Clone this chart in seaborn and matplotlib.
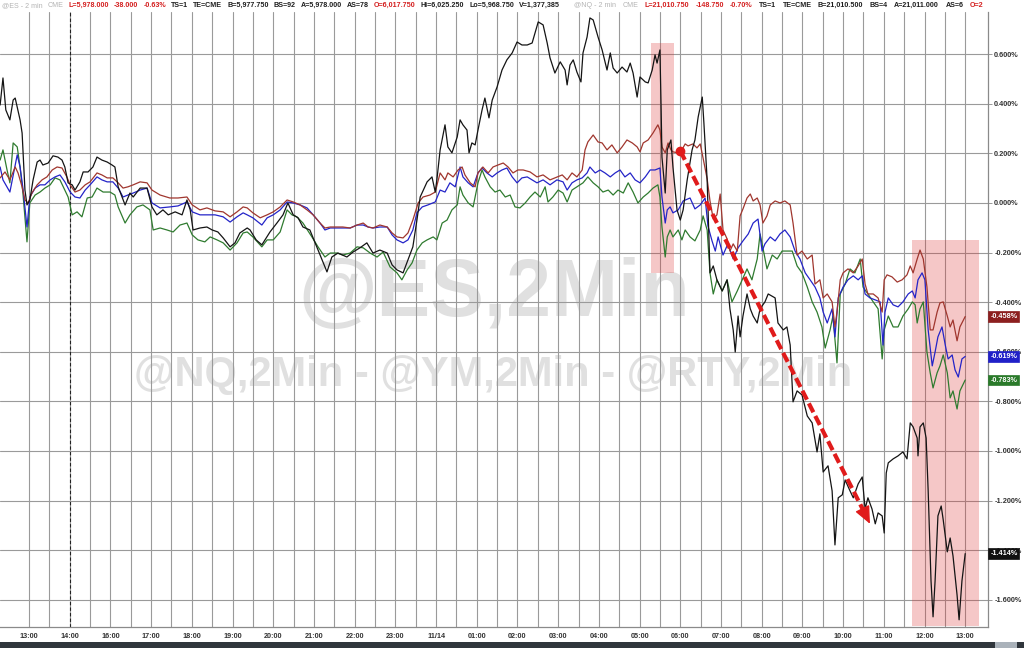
import numpy as np
import pandas as pd
import matplotlib
matplotlib.use("Agg")
import matplotlib.pyplot as plt
import seaborn as sns
from matplotlib.patches import Rectangle

# ---------------- data (x = hour slot, 0 = first "13:00" label; y = % change) -------------
time_labels = ["13:00", "14:00", "16:00", "17:00", "18:00", "19:00", "20:00", "21:00",
               "22:00", "23:00", "11/14", "01:00", "02:00", "03:00", "04:00", "05:00",
               "06:00", "07:00", "08:00", "09:00", "10:00", "11:00", "12:00", "13:00"]

nq = [(-0.71,0.395),(-0.64,0.504),(-0.57,0.375),(-0.47,0.335),(-0.39,0.415),(-0.34,0.423),(-0.29,0.387),(-0.22,0.335),(-0.17,0.282),(-0.10,0.052),(-0.05,-0.008),(0.02,0.012),(0.10,0.093),(0.20,0.165),(0.27,0.173),(0.34,0.153),(0.47,0.161),(0.59,0.190),(0.71,0.185),(0.81,0.173),(0.88,0.145),(0.96,0.081),(1.06,0.073),(1.13,0.052),(1.25,0.085),(1.33,0.125),(1.45,0.125),(1.57,0.145),(1.67,0.185),(1.79,0.173),(1.92,0.165),(2.04,0.153),(2.11,0.145),(2.19,0.065),(2.36,-0.008),(2.48,0.040),(2.56,0.024),(2.73,0.060),(2.90,0.060),(3.02,-0.016),(3.14,-0.048),(3.29,-0.028),(3.42,-0.048),(3.59,-0.036),(3.76,-0.048),(3.88,0.012),(3.96,-0.028),(4.03,-0.109),(4.20,-0.101),(4.37,-0.097),(4.50,-0.109),(4.64,-0.117),(4.77,-0.141),(4.94,-0.177),(5.06,-0.161),(5.18,-0.121),(5.36,-0.101),(5.43,-0.109),(5.58,-0.149),(5.72,-0.169),(5.92,-0.117),(6.09,-0.081),(6.24,-0.048),(6.36,0.000),(6.49,-0.048),(6.61,-0.060),(6.73,-0.097),(6.90,-0.109),(7.03,-0.161),(7.20,-0.230),(7.32,-0.278),(7.44,-0.218),(7.59,-0.202),(7.81,-0.218),(7.96,-0.198),(8.13,-0.181),(8.30,-0.161),(8.45,-0.202),(8.62,-0.190),(8.80,-0.202),(8.92,-0.250),(9.04,-0.270),(9.19,-0.282),(9.31,-0.230),(9.43,-0.177),(9.53,-0.069),(9.61,0.024),(9.78,0.085),(9.90,0.105),(9.98,0.044),(10.02,0.093),(10.10,0.214),(10.22,0.315),(10.29,0.226),(10.39,0.202),(10.52,0.266),(10.59,0.335),(10.66,0.315),(10.76,0.294),(10.81,0.202),(10.88,0.242),(10.96,0.234),(11.03,0.294),(11.13,0.375),(11.20,0.423),(11.30,0.343),(11.38,0.415),(11.50,0.468),(11.62,0.536),(11.74,0.577),(11.87,0.605),(11.99,0.649),(12.11,0.637),(12.24,0.637),(12.36,0.645),(12.43,0.685),(12.51,0.730),(12.63,0.718),(12.73,0.645),(12.80,0.585),(12.92,0.524),(13.05,0.569),(13.17,0.536),(13.22,0.476),(13.29,0.556),(13.37,0.577),(13.46,0.528),(13.56,0.488),(13.61,0.605),(13.71,0.669),(13.78,0.746),(13.86,0.738),(13.98,0.669),(14.08,0.617),(14.20,0.536),(14.28,0.605),(14.35,0.544),(14.45,0.524),(14.57,0.548),(14.69,0.528),(14.77,0.564),(14.84,0.524),(14.94,0.427),(15.01,0.508),(15.14,0.488),(15.21,0.484),(15.31,0.536),(15.38,0.597),(15.43,0.564),(15.50,0.617),(15.53,0.375),(15.55,0.185),(15.63,0.040),(15.68,0.214),(15.77,0.254),(15.82,0.145),(15.92,-0.028),(16.00,-0.069),(16.07,-0.028),(16.17,0.093),(16.29,0.214),(16.36,0.254),(16.44,0.347),(16.54,0.427),(16.58,0.323),(16.66,0.093),(16.73,-0.282),(16.81,-0.254),(16.90,-0.310),(17.03,-0.355),(17.15,-0.310),(17.22,-0.427),(17.30,-0.512),(17.35,-0.601),(17.42,-0.456),(17.47,-0.540),(17.54,-0.456),(17.64,-0.367),(17.72,-0.427),(17.79,-0.456),(17.89,-0.484),(17.96,-0.427),(18.08,-0.399),(18.16,-0.367),(18.33,-0.383),(18.40,-0.484),(18.53,-0.512),(18.62,-0.500),(18.70,-0.573),(18.77,-0.802),(18.87,-0.758),(18.99,-0.774),(19.12,-0.859),(19.24,-0.887),(19.36,-1.004),(19.43,-0.931),(19.51,-1.085),(19.63,-1.060),(19.73,-1.161),(19.80,-1.379),(19.88,-1.189),(19.98,-1.177),(20.05,-1.117),(20.17,-1.161),(20.25,-1.189),(20.37,-1.133),(20.47,-1.105),(20.54,-1.234),(20.61,-1.189),(20.71,-1.234),(20.79,-1.294),(20.86,-1.250),(20.96,-1.262),(21.01,-1.331),(21.06,-1.089),(21.11,-1.048),(21.23,-1.032),(21.35,-1.020),(21.47,-1.004),(21.57,-1.032),(21.65,-0.887),(21.72,-0.903),(21.82,-0.948),(21.84,-1.020),(21.89,-0.903),(21.97,-0.887),(22.04,-0.948),(22.09,-1.161),(22.16,-1.524),(22.21,-1.669),(22.26,-1.524),(22.33,-1.262),(22.41,-1.222),(22.46,-1.278),(22.56,-1.407),(22.63,-1.351),(22.70,-1.423),(22.80,-1.581),(22.85,-1.681),(22.92,-1.524),(23.00,-1.414)]

ym = [(-0.71,0.101),(-0.59,0.125),(-0.47,0.093),(-0.34,0.145),(-0.27,0.121),(-0.17,0.065),(-0.10,0.012),(-0.02,0.000),(0.07,0.040),(0.20,0.073),(0.32,0.093),(0.44,0.105),(0.57,0.133),(0.69,0.145),(0.81,0.141),(0.93,0.105),(1.01,0.073),(1.13,0.044),(1.25,0.052),(1.38,0.073),(1.50,0.085),(1.67,0.121),(1.79,0.113),(1.92,0.101),(2.06,0.101),(2.19,0.081),(2.31,0.060),(2.43,0.065),(2.56,0.073),(2.73,0.085),(2.90,0.081),(3.02,0.052),(3.22,0.032),(3.46,0.020),(3.66,0.020),(3.88,0.024),(4.01,-0.008),(4.20,-0.028),(4.37,-0.020),(4.57,-0.032),(4.77,-0.036),(4.94,-0.056),(5.11,-0.036),(5.26,-0.016),(5.36,-0.020),(5.50,-0.040),(5.68,-0.060),(5.85,-0.048),(6.00,-0.036),(6.17,-0.016),(6.34,0.012),(6.49,0.004),(6.66,-0.008),(6.83,-0.028),(6.98,-0.048),(7.15,-0.081),(7.27,-0.101),(7.40,-0.097),(7.57,-0.097),(7.71,-0.097),(7.89,-0.101),(8.06,-0.089),(8.21,-0.081),(8.33,-0.097),(8.45,-0.101),(8.62,-0.089),(8.80,-0.097),(8.92,-0.121),(9.04,-0.137),(9.19,-0.141),(9.31,-0.121),(9.43,-0.069),(9.56,0.000),(9.68,0.024),(9.85,0.032),(9.98,0.044),(10.10,0.121),(10.22,0.093),(10.29,0.121),(10.42,0.105),(10.54,0.133),(10.64,0.145),(10.71,0.113),(10.84,0.081),(10.96,0.065),(11.03,0.121),(11.15,0.145),(11.28,0.121),(11.40,0.145),(11.52,0.153),(11.65,0.161),(11.77,0.145),(11.89,0.121),(12.01,0.133),(12.14,0.133),(12.31,0.125),(12.48,0.105),(12.63,0.113),(12.80,0.093),(12.92,0.101),(13.10,0.113),(13.22,0.093),(13.34,0.121),(13.46,0.105),(13.59,0.133),(13.66,0.214),(13.73,0.246),(13.86,0.274),(13.98,0.246),(14.08,0.242),(14.20,0.214),(14.32,0.234),(14.45,0.202),(14.57,0.226),(14.69,0.254),(14.82,0.242),(14.94,0.226),(15.01,0.206),(15.09,0.242),(15.21,0.254),(15.33,0.282),(15.45,0.315),(15.50,0.294),(15.55,0.226),(15.63,0.202),(15.70,0.242),(15.77,0.214),(15.82,0.206),(15.95,0.202),(16.04,0.214),(16.12,0.238),(16.19,0.230),(16.31,0.238),(16.41,0.222),(16.49,0.238),(16.56,0.181),(16.66,0.097),(16.73,0.008),(16.81,-0.065),(16.90,-0.048),(16.98,0.036),(17.05,-0.109),(17.15,-0.145),(17.22,-0.194),(17.30,-0.165),(17.40,-0.194),(17.47,-0.052),(17.54,-0.024),(17.64,0.020),(17.72,0.036),(17.79,0.008),(17.89,0.020),(17.96,-0.008),(18.03,-0.081),(18.13,-0.052),(18.21,-0.008),(18.33,0.008),(18.45,0.000),(18.57,0.008),(18.70,-0.008),(18.77,-0.081),(18.87,-0.210),(18.99,-0.194),(19.12,-0.226),(19.24,-0.210),(19.31,-0.327),(19.43,-0.310),(19.51,-0.383),(19.61,-0.367),(19.73,-0.399),(19.80,-0.500),(19.85,-0.440),(19.93,-0.310),(20.00,-0.282),(20.12,-0.266),(20.25,-0.282),(20.37,-0.254),(20.47,-0.226),(20.54,-0.327),(20.61,-0.367),(20.74,-0.367),(20.86,-0.383),(20.96,-0.440),(21.01,-0.310),(21.08,-0.290),(21.20,-0.298),(21.33,-0.319),(21.45,-0.310),(21.57,-0.290),(21.65,-0.254),(21.72,-0.282),(21.82,-0.226),(21.89,-0.190),(21.97,-0.226),(22.06,-0.339),(22.14,-0.512),(22.21,-0.512),(22.31,-0.440),(22.38,-0.403),(22.46,-0.399),(22.56,-0.456),(22.63,-0.500),(22.70,-0.472),(22.80,-0.556),(22.87,-0.500),(23.00,-0.458)]

es = [(-0.71,0.145),(-0.64,0.093),(-0.47,0.044),(-0.29,0.194),(-0.22,0.145),(-0.15,0.060),(-0.05,-0.097),(0.02,0.024),(0.15,0.060),(0.27,0.073),(0.39,0.073),(0.52,0.093),(0.64,0.105),(0.76,0.113),(0.88,0.085),(1.01,0.044),(1.13,0.024),(1.25,0.020),(1.38,0.052),(1.50,0.073),(1.67,0.105),(1.79,0.093),(1.92,0.085),(2.06,0.085),(2.19,0.060),(2.31,0.024),(2.43,0.032),(2.56,0.040),(2.73,0.052),(2.90,0.060),(3.02,0.000),(3.22,-0.020),(3.46,-0.016),(3.66,-0.012),(3.88,0.004),(4.01,-0.036),(4.20,-0.048),(4.37,-0.048),(4.57,-0.048),(4.77,-0.056),(4.94,-0.077),(5.11,-0.056),(5.26,-0.040),(5.36,-0.048),(5.50,-0.060),(5.72,-0.089),(5.85,-0.060),(6.00,-0.048),(6.17,-0.028),(6.34,0.004),(6.49,0.000),(6.66,-0.008),(6.83,-0.020),(6.98,-0.048),(7.15,-0.081),(7.27,-0.109),(7.40,-0.101),(7.57,-0.101),(7.71,-0.101),(7.89,-0.101),(8.06,-0.089),(8.21,-0.089),(8.33,-0.097),(8.45,-0.101),(8.62,-0.097),(8.80,-0.097),(8.92,-0.129),(9.04,-0.149),(9.19,-0.161),(9.31,-0.149),(9.43,-0.109),(9.53,-0.040),(9.66,-0.016),(9.80,-0.008),(9.98,0.004),(10.10,0.052),(10.22,0.044),(10.34,0.081),(10.47,0.065),(10.59,0.145),(10.66,0.105),(10.79,0.081),(10.91,0.065),(11.03,0.121),(11.13,0.141),(11.25,0.121),(11.38,0.105),(11.50,0.121),(11.62,0.133),(11.74,0.141),(11.87,0.105),(11.99,0.081),(12.11,0.101),(12.24,0.105),(12.36,0.093),(12.48,0.081),(12.63,0.093),(12.80,0.073),(12.97,0.093),(13.12,0.085),(13.22,0.052),(13.34,0.081),(13.46,0.093),(13.59,0.101),(13.71,0.121),(13.78,0.145),(13.91,0.121),(14.03,0.133),(14.15,0.121),(14.28,0.105),(14.40,0.121),(14.52,0.133),(14.64,0.105),(14.77,0.121),(14.89,0.093),(15.01,0.081),(15.14,0.105),(15.26,0.133),(15.38,0.133),(15.50,0.141),(15.55,0.024),(15.63,-0.081),(15.68,-0.028),(15.75,-0.016),(15.82,-0.040),(15.95,-0.028),(16.07,0.008),(16.24,0.020),(16.36,-0.024),(16.49,-0.008),(16.61,0.020),(16.68,-0.093),(16.78,-0.153),(16.86,-0.194),(16.93,-0.137),(17.05,-0.210),(17.17,-0.165),(17.30,-0.226),(17.42,-0.181),(17.54,-0.153),(17.67,-0.125),(17.79,-0.081),(17.91,-0.065),(18.01,-0.194),(18.08,-0.165),(18.21,-0.137),(18.33,-0.153),(18.45,-0.125),(18.57,-0.109),(18.70,-0.137),(18.82,-0.194),(18.94,-0.226),(19.07,-0.282),(19.19,-0.310),(19.31,-0.339),(19.43,-0.383),(19.51,-0.440),(19.61,-0.484),(19.73,-0.427),(19.80,-0.540),(19.88,-0.383),(20.00,-0.339),(20.12,-0.310),(20.25,-0.294),(20.37,-0.310),(20.47,-0.294),(20.54,-0.367),(20.66,-0.383),(20.79,-0.391),(20.91,-0.399),(20.98,-0.573),(21.03,-0.440),(21.11,-0.383),(21.23,-0.411),(21.35,-0.419),(21.47,-0.399),(21.60,-0.367),(21.70,-0.355),(21.77,-0.383),(21.84,-0.310),(21.94,-0.282),(22.01,-0.310),(22.09,-0.512),(22.19,-0.657),(22.26,-0.601),(22.33,-0.540),(22.43,-0.500),(22.51,-0.573),(22.58,-0.629),(22.68,-0.613),(22.75,-0.673),(22.83,-0.702),(22.92,-0.629),(23.00,-0.619)]

rty = [(-0.71,0.173),(-0.64,0.214),(-0.54,0.133),(-0.47,0.081),(-0.39,0.242),(-0.29,0.226),(-0.22,0.145),(-0.15,0.040),(-0.05,-0.157),(0.02,0.000),(0.15,0.032),(0.27,0.044),(0.39,0.060),(0.52,0.073),(0.64,0.101),(0.76,0.093),(0.88,0.052),(0.96,0.024),(1.06,-0.048),(1.18,-0.036),(1.30,-0.056),(1.43,0.020),(1.55,0.024),(1.67,0.060),(1.82,0.044),(1.99,0.044),(2.11,0.032),(2.19,-0.016),(2.36,-0.081),(2.48,-0.048),(2.65,-0.016),(2.80,-0.008),(2.97,-0.028),(3.05,-0.109),(3.22,-0.101),(3.39,-0.109),(3.54,-0.117),(3.71,-0.089),(3.88,-0.081),(4.01,-0.129),(4.15,-0.149),(4.32,-0.157),(4.45,-0.137),(4.62,-0.149),(4.77,-0.161),(4.94,-0.190),(5.11,-0.161),(5.26,-0.121),(5.36,-0.117),(5.50,-0.137),(5.72,-0.177),(5.85,-0.149),(6.00,-0.149),(6.17,-0.117),(6.34,-0.028),(6.46,-0.048),(6.58,-0.056),(6.73,-0.081),(6.95,-0.137),(7.10,-0.177),(7.27,-0.218),(7.40,-0.202),(7.57,-0.202),(7.71,-0.210),(7.89,-0.202),(8.06,-0.177),(8.21,-0.181),(8.38,-0.202),(8.55,-0.218),(8.70,-0.198),(8.87,-0.258),(9.04,-0.282),(9.16,-0.310),(9.29,-0.270),(9.41,-0.242),(9.53,-0.190),(9.66,-0.161),(9.78,-0.149),(9.93,-0.137),(10.02,-0.149),(10.15,-0.081),(10.27,-0.069),(10.39,-0.028),(10.52,-0.008),(10.59,0.065),(10.66,0.032),(10.79,0.000),(10.91,-0.016),(11.03,0.081),(11.13,0.133),(11.20,0.105),(11.33,0.065),(11.45,0.044),(11.57,0.052),(11.70,0.024),(11.82,0.032),(11.94,-0.016),(12.06,-0.020),(12.19,0.000),(12.31,0.024),(12.43,0.044),(12.56,0.024),(12.68,0.065),(12.75,0.004),(12.87,0.024),(13.00,0.052),(13.12,0.040),(13.22,0.004),(13.34,0.052),(13.46,0.065),(13.61,0.081),(13.73,0.105),(13.86,0.081),(13.98,0.065),(14.10,0.044),(14.23,0.052),(14.35,0.032),(14.47,0.052),(14.60,0.040),(14.72,0.081),(14.84,0.044),(14.96,0.000),(15.09,0.024),(15.21,0.040),(15.33,0.060),(15.45,0.073),(15.50,0.024),(15.55,-0.097),(15.63,-0.218),(15.68,-0.137),(15.75,-0.109),(15.82,-0.137),(15.95,-0.109),(16.04,-0.149),(16.12,-0.109),(16.24,-0.137),(16.36,-0.153),(16.49,-0.109),(16.56,-0.052),(16.66,-0.109),(16.73,-0.282),(16.81,-0.367),(16.90,-0.310),(17.03,-0.355),(17.15,-0.310),(17.27,-0.399),(17.40,-0.355),(17.52,-0.310),(17.64,-0.266),(17.76,-0.310),(17.89,-0.226),(17.96,-0.125),(18.03,-0.181),(18.13,-0.266),(18.26,-0.210),(18.38,-0.226),(18.50,-0.194),(18.62,-0.194),(18.75,-0.194),(18.87,-0.254),(18.99,-0.282),(19.12,-0.339),(19.24,-0.399),(19.36,-0.440),(19.48,-0.500),(19.56,-0.585),(19.68,-0.512),(19.75,-0.456),(19.85,-0.645),(19.93,-0.367),(20.05,-0.327),(20.17,-0.266),(20.29,-0.282),(20.42,-0.226),(20.49,-0.339),(20.61,-0.367),(20.74,-0.399),(20.86,-0.427),(20.96,-0.629),(21.01,-0.512),(21.11,-0.456),(21.23,-0.500),(21.35,-0.500),(21.47,-0.456),(21.60,-0.427),(21.70,-0.399),(21.77,-0.411),(21.82,-0.484),(21.89,-0.427),(21.97,-0.399),(22.06,-0.601),(22.14,-0.685),(22.21,-0.746),(22.31,-0.685),(22.38,-0.657),(22.46,-0.613),(22.56,-0.685),(22.63,-0.786),(22.70,-0.758),(22.80,-0.831),(22.87,-0.758),(23.00,-0.714)]

series_names = ["@RTY", "@ES", "@YM", "@NQ"]
series_data = {"@RTY": rty, "@ES": es, "@YM": ym, "@NQ": nq}
series_colors = {"@RTY": "#2f7b2f", "@ES": "#2424c8", "@YM": "#a0362e", "@NQ": "#141414"}
end_labels = {"@YM": "-0.458%", "@ES": "-0.619%", "@RTY": "-0.783%", "@NQ": "-1.414%"}
box_colors = {"@YM": "#8c1f1f", "@ES": "#2020c8", "@RTY": "#2a7a2a", "@NQ": "#111111"}
y_ticks = [0.6, 0.4, 0.2, 0.0, -0.2, -0.4, -0.6, -0.8, -1.0, -1.2, -1.4, -1.6]

header_es = [("@ES - 2 min", "g"), ("CME", "g"), ("L=5,978.000", "r"), ("-38.000", "r"),
             ("-0.63%", "r"), ("TS=1", "k"), ("TE=CME", "k"), ("B=5,977.750", "k"),
             ("BS=92", "k"), ("A=5,978.000", "k"), ("AS=78", "k"), ("O=6,017.750", "r"),
             ("Hi=6,025.250", "k"), ("Lo=5,968.750", "k"), ("V=1,377,385", "k")]
header_nq = [("@NQ - 2 min", "g"), ("CME", "g"), ("L=21,010.750", "r"), ("-148.750", "r"),
             ("-0.70%", "r"), ("TS=1", "k"), ("TE=CME", "k"), ("B=21,010.500", "k"),
             ("BS=4", "k"), ("A=21,011.000", "k"), ("AS=6", "k"), ("O=2", "r")]

# ---------------- build dataframe ----------------
frames = []
for name in series_names:
    t, v = zip(*series_data[name])
    frames.append(pd.DataFrame({"slot": t, "pct": v, "series": name}))
df = pd.concat(frames, ignore_index=True)

# ---------------- figure ----------------
sns.set_theme(style="white")
plt.rcParams["font.family"] = ["Liberation Sans", "DejaVu Sans"]

W, H = 1024, 648
fig = plt.figure(figsize=(W / 100, H / 100), dpi=100)
fig.patch.set_facecolor("white")
ax = fig.add_axes([0, 21 / H, 988 / W, 615 / H])
ax.set_facecolor("white")

# watermarks
ax.text(0.5, 0.54, "@ES,2Min", transform=ax.transAxes, ha="center", va="center",
        fontsize=58, fontweight="bold", color="#e0e0e0", zorder=0.1)
ax.text(0.499, 0.41, "@NQ,2Min - @YM,2Min - @RTY,2Min", transform=ax.transAxes,
        ha="center", va="center", fontsize=30, fontweight="bold", color="#e0e0e0", zorder=0.1)

# shaded highlight regions
red = "#dc3232"
ax.add_patch(Rectangle((15.28, -0.282), 0.57, 0.927, facecolor=red, alpha=0.27,
                       edgecolor="none", zorder=1))
ax.add_patch(Rectangle((21.70, -1.706), 1.64, 1.557, facecolor=red, alpha=0.27,
                       edgecolor="none", zorder=1))

# session start dashed line
ax.axvline(1.0, color="#222222", ls=(0, (3, 2)), lw=0.8, zorder=2)

# lines
sns.lineplot(data=df, x="slot", y="pct", hue="series", hue_order=series_names,
             palette=series_colors, estimator=None, sort=False, legend=False,
             lw=0.9, ax=ax, zorder=3)

# red dashed arrow
x0, y0 = 16.0, 0.21
xb, yb = 20.51, -1.244
x1, y1 = 20.66, -1.294
ax.plot([x0, xb], [y0, yb], color="#e01b1b", lw=3.0, ls=(0, (2.4, 1.0)), zorder=4,
        solid_capstyle="butt", dash_capstyle="butt")
ax.plot([x0], [y0], "o", color="#e01b1b", ms=6, zorder=4)
ax.annotate("", xy=(x1, y1), xytext=(xb, yb),
            arrowprops=dict(arrowstyle="-|>,head_length=0.9,head_width=0.4",
                            color="#e01b1b", lw=1, shrinkA=0, shrinkB=0,
                            mutation_scale=12), zorder=4)

# axes limits / ticks / grid
ax.set_xlim(-0.713, 23.56)
ax.set_ylim(-1.71, 0.77)
ax.set_xticks(range(len(time_labels)))
ax.set_xticklabels(time_labels, fontsize=5.2, fontweight="bold", color="#333333")
ax.set_xticks(np.arange(0.5, len(time_labels) - 1, 1.0), minor=True)
ax.set_yticks(y_ticks)
ax.set_yticklabels([f"{v:.3f}%" if abs(v) > 1e-9 else "0.000%" for v in y_ticks],
                   fontsize=5.3, fontweight="bold", color="#333333")
ax.yaxis.tick_right()
ax.tick_params(axis="x", which="both", length=0, pad=4)
ax.tick_params(axis="y", which="both", length=3, width=0.6, color="#888888", pad=1.5,
               right=True, left=False)
ax.grid(True, which="major", axis="both", color="#9a9a9a", lw=0.8)
ax.grid(True, which="minor", axis="x", color="#9a9a9a", lw=0.8)
ax.set_axisbelow(True)
ax.set_xlabel("")
ax.set_ylabel("")
for side in ["left", "top"]:
    ax.spines[side].set_visible(False)
for side in ["right", "bottom"]:
    ax.spines[side].set_visible(True)
    ax.spines[side].set_color("#8a8a8a")
    ax.spines[side].set_linewidth(0.9)

# last-value tags on the right
for name in ["@YM", "@ES", "@RTY", "@NQ"]:
    last_v = series_data[name][-1][1]
    ax.annotate(end_labels[name], xy=(1.0, last_v), xycoords=("axes fraction", "data"),
                xytext=(1.6, 0), textcoords="offset points", ha="left", va="center",
                fontsize=5.2, fontweight="bold", color="white", zorder=6,
                annotation_clip=False,
                bbox=dict(boxstyle="square,pad=0.25", fc=box_colors[name],
                          ec=box_colors[name], lw=0.5))

# header text (laid out left to right)
hdr_colors = {"g": "#b4b4b4", "r": "#d42020", "k": "#1e1e1e"}
renderer = fig.canvas.get_renderer()

def layout_header(items, x_start_px, gap_px=5.0):
    x = x_start_px
    for txt, c in items:
        t = fig.text(x / W, 1 - 5.5 / H, txt, ha="left", va="center", fontsize=5.15,
                     fontweight="normal" if c == "g" else "bold", color=hdr_colors[c])
        bb = t.get_window_extent(renderer=renderer)
        x += bb.width + gap_px

layout_header(header_es, 2, 5.0)
layout_header(header_nq, 574, 6.3)

# bottom dark strip
fig.add_artist(Rectangle((0, 0), 1, 6 / H, transform=fig.transFigure,
                         facecolor="#30363c", edgecolor="none"))
fig.add_artist(Rectangle((995 / W, 0), 22 / W, 6 / H, transform=fig.transFigure,
                         facecolor="#aab2ba", edgecolor="none"))

fig.savefig("out.png", dpi=100, facecolor="white")
